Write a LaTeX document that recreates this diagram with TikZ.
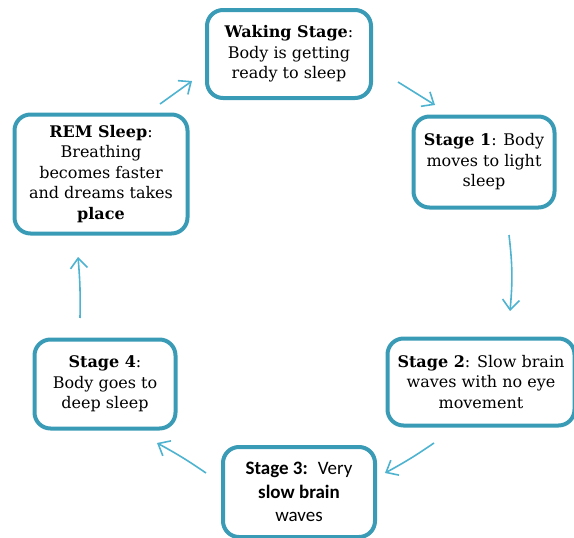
\documentclass[tikz,border=0pt]{standalone}
\usepackage{fontspec}
\setmainfont{DejaVu Serif}
\newfontfamily\calib{Carlito}
\usetikzlibrary{arrows.meta}
\definecolor{boxline}{HTML}{3A9BB6}
\definecolor{arrowcol}{HTML}{4DB3D0}
\begin{document}
\begin{tikzpicture}[x=1pt,y=-1pt,
  stagebox/.style={draw=boxline, line width=4pt, rounded corners=16pt, fill=white,
    align=center, font=\fontsize{16}{20.5}\selectfont, inner sep=0pt},
  cyc/.style={draw=arrowcol, line width=1.6pt, -{Straight Barb[length=10pt,width=17pt,line width=1.6pt]}}]
\useasboundingbox (0,0) rectangle (574,538);
\node[stagebox, minimum width=164pt, minimum height=88pt] (wake) at (289,54)
  {\textbf{Waking Stage}:\\Body is getting\\ready to sleep};
\node[stagebox, minimum width=141pt, minimum height=91pt] (s1) at (484,162)
  {\textbf{Stage 1}: Body\\moves to light\\sleep};
\node[stagebox, minimum width=173pt, minimum height=119pt] (rem) at (101,174)
  {\textbf{REM Sleep}:\\Breathing\\becomes faster\\and dreams takes\\\textbf{place}};
\node[stagebox, minimum width=187pt, minimum height=87pt] (s2) at (481,382)
  {\textbf{Stage 2}: Slow brain\\waves with no eye\\movement};
\node[stagebox, minimum width=141pt, minimum height=89pt] (s4) at (105,384)
  {\textbf{Stage 4}:\\Body goes to\\deep sleep};
\node[stagebox, minimum width=152pt, minimum height=90pt, font=\calib\fontsize{19}{23.5}\selectfont] (s3) at (299,492)
  {\textbf{Stage 3:}~ Very\\\textbf{slow brain}\\waves};
\coordinate (a1s) at (160,104); \coordinate (a1e) at (192,81);
\coordinate (a2s) at (398,82); \coordinate (a2e) at (435,105);
\coordinate (a3s) at (509,235); \coordinate (a3e) at (510,311);
\coordinate (a4s) at (434,443); \coordinate (a4e) at (385,473);
\coordinate (a5s) at (206,473); \coordinate (a5e) at (157,443);
\coordinate (a6s) at (80,318); \coordinate (a6e) at (78,257);
\draw[cyc] (a1s) -- (a1e);
\draw[cyc] (a2s) -- (a2e);
\draw[cyc] (a3s) to[bend left=6] (a3e);
\draw[cyc] (a4s) to[bend left=3] (a4e);
\draw[cyc] (a5s) to[bend right=3] (a5e);
\draw[cyc] (a6s) to[bend right=3] (a6e);
\end{tikzpicture}
\end{document}
